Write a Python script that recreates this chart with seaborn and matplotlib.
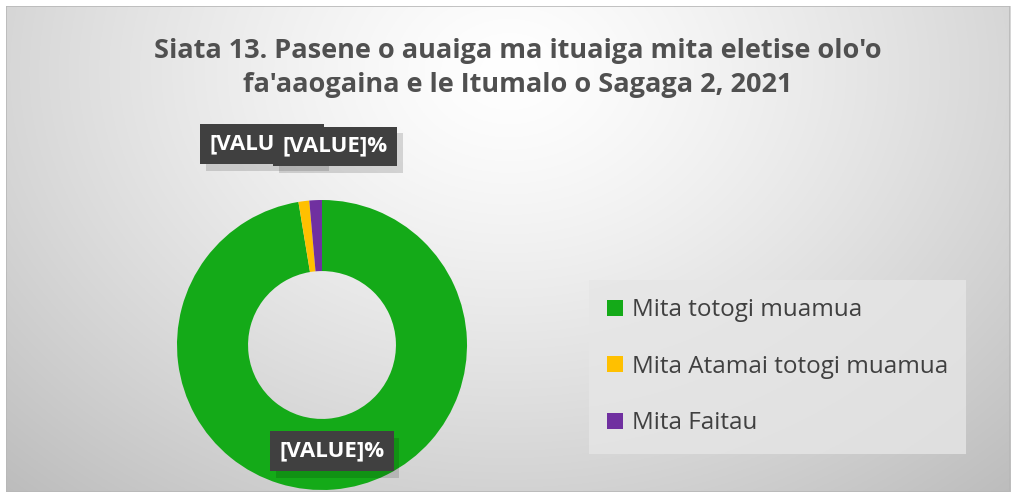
import numpy as np
import matplotlib
matplotlib.use("Agg")
import matplotlib.pyplot as plt
import matplotlib.patheffects as pe
from matplotlib.patches import Rectangle
import seaborn as sns

sns.set_theme(style="white")
plt.rcParams['font.family'] = ['Open Sans', 'DejaVu Sans']

# ---- data ----
categories = ["Mita totogi muamua", "Mita Atamai totogi muamua", "Mita Faitau"]
values = [97.4, 1.2, 1.4]
colors = ["#14aa18", "#ffc000", "#7030a0"]
label_texts = ["[VALUE]%", "[VALUE]%", "[VALUE]%"]
title = "Siata 13. Pasene o auaiga ma ituaiga mita eletise olo'o\nfa'aaogaina e le Itumalo o Sagaga 2, 2021"

W, H = 1013, 492
fig = plt.figure(figsize=(W / 100, H / 100), dpi=100)
fig.patch.set_facecolor("white")

# background with radial gradient (chart area)
bg = fig.add_axes([6 / W, 0, (1010 - 6) / W, (H - 6) / H])
bg.set_axis_off()
yy, xx = np.mgrid[0:300, 0:600]
cx, cy = 300, 40
d = np.sqrt(((xx - cx) / 400.0) ** 2 + ((yy - cy) / 320.0) ** 2)
d = np.clip(d, 0, 1.1)
v = 1.0 - 0.23 * d ** 1.3
img = np.dstack([v, v, v])
bg.imshow(img, aspect="auto", extent=[0, 1, 0, 1], origin="upper")
bg.set_xlim(0, 1)
bg.set_ylim(0, 1)
bg.add_patch(Rectangle((0, 0), 1, 1, fill=False, ec="#b8b8b8", lw=1.2, transform=bg.transAxes))

# title
fig.text(518 / W, 1 - 68 / H, title, ha="center", va="center", fontsize=19.5,
         fontweight="bold", color="#505050", linespacing=1.4)

# pie
cxp, cyp, R = 322, 345, 145
ax = fig.add_axes([(cxp - R) / W, (H - cyp - R) / H, 2 * R / W, 2 * R / H])
ax.set_axis_off()
wedges, _ = ax.pie(values, colors=colors, startangle=90, counterclock=False,
                   radius=1.0, wedgeprops=dict(width=0.49, edgecolor="none"))
ax.set_xlim(-1, 1)
ax.set_ylim(-1, 1)
ax.set_aspect("equal")

# data labels (positions in pie data coordinates)
pos_map = {0: (0.069, -0.731), 1: (-0.414, 1.386), 2: (0.09, 1.37)}
for i in [1, 2, 0]:
    x, y = pos_map[i]
    t = ax.text(x, y, label_texts[i], ha="center", va="center", fontsize=16,
                fontweight="bold", color="white",
                bbox=dict(boxstyle="square,pad=0.42", fc="#404040", ec="none"),
                clip_on=False)
    t.get_bbox_patch().set_path_effects([
        pe.SimplePatchShadow(offset=(4, -5), shadow_rgbFace="black", alpha=0.14),
        pe.Normal()])

# legend
leg = fig.legend(wedges, categories, loc="upper left",
                 bbox_to_anchor=(589 / W, 1 - 280 / H), borderaxespad=0,
                 frameon=True, fontsize=17.5, handlelength=0.65, handleheight=0.65,
                 handletextpad=0.35, labelspacing=1.34, borderpad=0.75,
                 fancybox=False, labelcolor="#404040")
leg.get_frame().set_facecolor("#e6e6e6")
leg.get_frame().set_edgecolor("none")

fig.savefig("out.png", dpi=100, facecolor="white")
